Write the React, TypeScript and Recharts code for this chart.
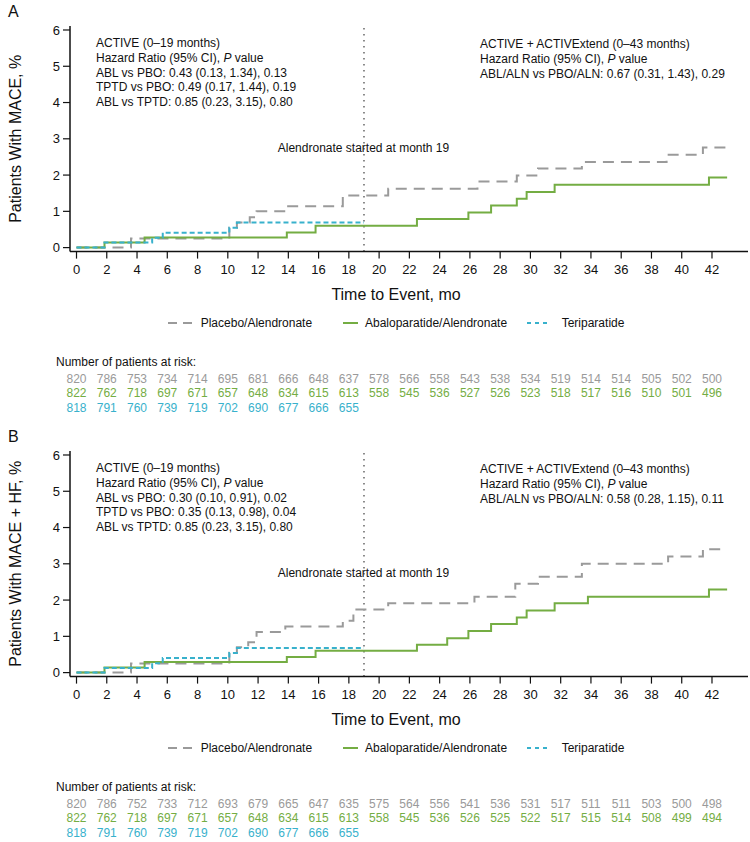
import { LineChart, Line, XAxis, YAxis, ReferenceLine } from "recharts";

const INK = "#111";
const GREY = "#9a9a9a";
const GREEN = "#74ad43";
const TEAL = "#38b1cc";
const FONT = "'Liberation Sans', Arial, sans-serif";

const MONTHS = [0, 2, 4, 6, 8, 10, 12, 14, 16, 18, 20, 22, 24, 26, 28, 30, 32, 34, 36, 38, 40, 42];
const PCT_TICKS = [0, 1, 2, 3, 4, 5, 6];
const X_DOMAIN = [-0.43, 44.38];
const Y_DOMAIN = [-0.11, 6.11];

// Panel A: MACE — step times (months) and cumulative %
const A_PBO_T = [0, 3.6, 10.1, 10.6, 11.45, 11.9, 13.8, 17.6, 20.6, 26.5, 29.1, 30.5, 33.4, 39.0, 41.4, 43.0];
const A_PBO_V = [0, 0.25, 0.55, 0.69, 0.84, 1.0, 1.14, 1.44, 1.62, 1.82, 1.99, 2.18, 2.36, 2.56, 2.76, 2.76];
const A_ABL_T = [0, 1.85, 4.5, 13.9, 15.8, 22.5, 25.9, 27.4, 29.1, 29.75, 31.6, 41.8, 43.0];
const A_ABL_V = [0, 0.14, 0.28, 0.42, 0.6, 0.79, 0.97, 1.16, 1.35, 1.53, 1.73, 1.93, 1.93];
const A_TPTD_T = [0, 1.85, 5.0, 5.7, 10.1, 10.6, 19.0];
const A_TPTD_V = [0, 0.14, 0.27, 0.41, 0.55, 0.69, 0.69];

// Panel B: MACE + HF
const B_PBO_T = [0, 3.6, 10.1, 10.6, 11.35, 11.9, 13.8, 17.6, 18.3, 20.6, 26.3, 29.0, 30.5, 33.4, 39.1, 41.4, 43.0];
const B_PBO_V = [0, 0.25, 0.55, 0.7, 0.84, 1.12, 1.27, 1.43, 1.74, 1.91, 2.09, 2.45, 2.64, 3.0, 3.2, 3.4, 3.4];
const B_ABL_T = [0, 1.85, 4.5, 13.9, 15.8, 22.5, 24.5, 25.9, 27.4, 29.1, 29.75, 31.6, 33.8, 41.8, 43.0];
const B_ABL_V = [0, 0.14, 0.29, 0.43, 0.6, 0.77, 0.95, 1.15, 1.34, 1.52, 1.71, 1.91, 2.09, 2.29, 2.29];
const B_TPTD_T = [0, 1.85, 5.0, 5.7, 10.1, 10.6, 19.0];
const B_TPTD_V = [0, 0.13, 0.26, 0.4, 0.54, 0.68, 0.68];

// number at risk, one per x tick
const RISK_A_PBO = [820, 786, 753, 734, 714, 695, 681, 666, 648, 637, 578, 566, 558, 543, 538, 534, 519, 514, 514, 505, 502, 500];
const RISK_A_ABL = [822, 762, 718, 697, 671, 657, 648, 634, 615, 613, 558, 545, 536, 527, 526, 523, 518, 517, 516, 510, 501, 496];
const RISK_A_TPTD = [818, 791, 760, 739, 719, 702, 690, 677, 666, 655];
const RISK_B_PBO = [820, 786, 752, 733, 712, 693, 679, 665, 647, 635, 575, 564, 556, 541, 536, 531, 517, 511, 511, 503, 500, 498];
const RISK_B_ABL = [822, 762, 718, 697, 671, 657, 648, 634, 615, 613, 558, 545, 536, 526, 525, 522, 517, 515, 514, 508, 499, 494];
const RISK_B_TPTD = [818, 791, 760, 739, 719, 702, 690, 677, 666, 655];

const SERIES = [
  { name: "Placebo/Alendronate", color: GREY, dash: "11 7" },
  { name: "Abaloparatide/Alendronate", color: GREEN, dash: undefined },
  { name: "Teriparatide", color: TEAL, dash: "5 3" },
];

const toSteps = (t: number[], v: number[]) => t.map((x, i) => ({ t: x, v: v[i] }));

function Notes({ lines, left, top }: { lines: React.ReactNode[]; left: number; top: number }) {
  return (
    <div style={{ position: "absolute", left, top, fontSize: 12, lineHeight: "14.8px", color: INK, whiteSpace: "nowrap" }}>
      {lines.map((l, i) => (
        <div key={i}>{l}</div>
      ))}
    </div>
  );
}

const hrLine = (
  <>
    Hazard Ratio (95% CI), <i>P</i> value
  </>
);

function Panel({
  letter,
  yTitle,
  steps,
  risk,
  left,
  right,
}: {
  letter: string;
  yTitle: string;
  steps: { t: number; v: number }[][];
  risk: number[][];
  left: string[];
  right: string[];
}) {
  return (
    <div style={{ position: "relative", width: 750, height: 425 }}>
      <LineChart width={750} height={417} margin={{ top: 26, right: 2, left: 0, bottom: 2 }}>
        <XAxis
          xAxisId="a_main"
          dataKey="t"
          type="number"
          domain={X_DOMAIN}
          allowDataOverflow
          ticks={MONTHS}
          interval={0}
          height={123}
          tickSize={7}
          tickMargin={6}
          axisLine={{ stroke: INK, strokeWidth: 1.5 }}
          tickLine={{ stroke: INK, strokeWidth: 1.2 }}
          tick={{ fill: INK, fontSize: 13 }}
          label={{ value: "Time to Event, mo", position: "insideTop", offset: 37, dx: -13, fill: INK, fontSize: 16 }}
        />
        {risk.map((row, r) => (
          <XAxis
            key={r}
            xAxisId={`b_risk${r}`}
            dataKey="t"
            type="number"
            domain={X_DOMAIN}
            allowDataOverflow
            ticks={MONTHS}
            interval={0}
            height={r === 2 ? 12 : 14.2}
            axisLine={false}
            tickLine={false}
            tickSize={0}
            tickMargin={0}
            tick={{ fill: SERIES[r].color, fontSize: 12 }}
            tickFormatter={(_v: number, i: number) => (row[i] !== undefined ? String(row[i]) : "")}
          />
        ))}
        <XAxis
          xAxisId="c_top"
          orientation="top"
          type="number"
          domain={X_DOMAIN}
          allowDataOverflow
          height={0}
          tick={false}
          tickLine={false}
          axisLine={{ stroke: INK, strokeWidth: 1.5 }}
        />
        <YAxis
          yAxisId="y"
          type="number"
          domain={Y_DOMAIN}
          allowDataOverflow
          ticks={PCT_TICKS}
          interval={0}
          width={70}
          tickSize={7}
          tickMargin={3}
          axisLine={{ stroke: INK, strokeWidth: 1.5 }}
          tickLine={{ stroke: INK, strokeWidth: 1.2 }}
          tick={{ fill: INK, fontSize: 13 }}
          label={{ value: yTitle, angle: -90, position: "center", dx: -20, fill: INK, fontSize: 16 }}
        />
        <YAxis
          yAxisId="z_right"
          orientation="right"
          type="number"
          domain={Y_DOMAIN}
          allowDataOverflow
          width={0}
          tick={false}
          tickLine={false}
          axisLine={{ stroke: INK, strokeWidth: 1.5 }}
        />
        <ReferenceLine xAxisId="a_main" yAxisId="y" x={19} stroke="#666" strokeWidth={1.5} strokeDasharray="1.5 4.5" />
        {steps.map((pts, s) => (
          <Line
            key={s}
            data={pts}
            dataKey="v"
            xAxisId="a_main"
            yAxisId="y"
            type="stepAfter"
            stroke={SERIES[s].color}
            strokeWidth={2}
            strokeDasharray={SERIES[s].dash}
            dot={false}
            activeDot={false}
            isAnimationActive={false}
          />
        ))}
      </LineChart>

      <div style={{ position: "absolute", left: 8, top: 3, fontSize: 16, lineHeight: "18px", color: INK }}>{letter}</div>

      <Notes left={96} top={36} lines={[left[0], hrLine, ...left.slice(1)]} />
      <Notes left={480} top={37} lines={[right[0], hrLine, ...right.slice(1)]} />
      <div
        style={{
          position: "absolute",
          left: 263.5,
          width: 200,
          top: 140.6,
          textAlign: "center",
          fontSize: 12,
          lineHeight: "14.8px",
          color: INK,
        }}
      >
        Alendronate started at month 19
      </div>

      {/* legend */}
      {[
        { x: 168, w: 25, tx: 200.7 },
        { x: 342.5, w: 15, tx: 365 },
        { x: 527, w: 23, tx: 561.7 },
      ].map((p, s) => (
        <div key={s}>
          <svg style={{ position: "absolute", left: p.x, top: 319 }} width={p.w} height={8}>
            <line
              x1={0}
              x2={p.w}
              y1={4}
              y2={4}
              stroke={SERIES[s].color}
              strokeWidth={2}
              strokeDasharray={s === 0 ? "9 6" : s === 2 ? "4 4" : undefined}
            />
          </svg>
          <div style={{ position: "absolute", left: p.tx, top: 315.6, fontSize: 12, lineHeight: "14.8px", color: INK, whiteSpace: "nowrap" }}>
            {SERIES[s].name}
          </div>
        </div>
      ))}

      <div style={{ position: "absolute", left: 56, top: 355, fontSize: 12, lineHeight: "14.8px", color: INK, whiteSpace: "nowrap" }}>
        Number of patients at risk:
      </div>
    </div>
  );
}

export default function App() {
  return (
    <div style={{ position: "absolute", left: 0, top: 0, width: 750, height: 842, background: "#fff", fontFamily: FONT, overflow: "hidden" }}>
      <Panel
        letter="A"
        yTitle="Patients With MACE, %"
        steps={[toSteps(A_PBO_T, A_PBO_V), toSteps(A_ABL_T, A_ABL_V), toSteps(A_TPTD_T, A_TPTD_V)]}
        risk={[RISK_A_PBO, RISK_A_ABL, RISK_A_TPTD]}
        left={[
          "ACTIVE (0–19 months)",
          "ABL vs PBO: 0.43 (0.13, 1.34), 0.13",
          "TPTD vs PBO: 0.49 (0.17, 1.44), 0.19",
          "ABL vs TPTD: 0.85 (0.23, 3.15), 0.80",
        ]}
        right={["ACTIVE + ACTIVExtend (0–43 months)", "ABL/ALN vs PBO/ALN: 0.67 (0.31, 1.43), 0.29"]}
      />
      <Panel
        letter="B"
        yTitle="Patients With MACE + HF, %"
        steps={[toSteps(B_PBO_T, B_PBO_V), toSteps(B_ABL_T, B_ABL_V), toSteps(B_TPTD_T, B_TPTD_V)]}
        risk={[RISK_B_PBO, RISK_B_ABL, RISK_B_TPTD]}
        left={[
          "ACTIVE (0–19 months)",
          "ABL vs PBO: 0.30 (0.10, 0.91), 0.02",
          "TPTD vs PBO: 0.35 (0.13, 0.98), 0.04",
          "ABL vs TPTD: 0.85 (0.23, 3.15), 0.80",
        ]}
        right={["ACTIVE + ACTIVExtend (0–43 months)", "ABL/ALN vs PBO/ALN: 0.58 (0.28, 1.15), 0.11"]}
      />
    </div>
  );
}
